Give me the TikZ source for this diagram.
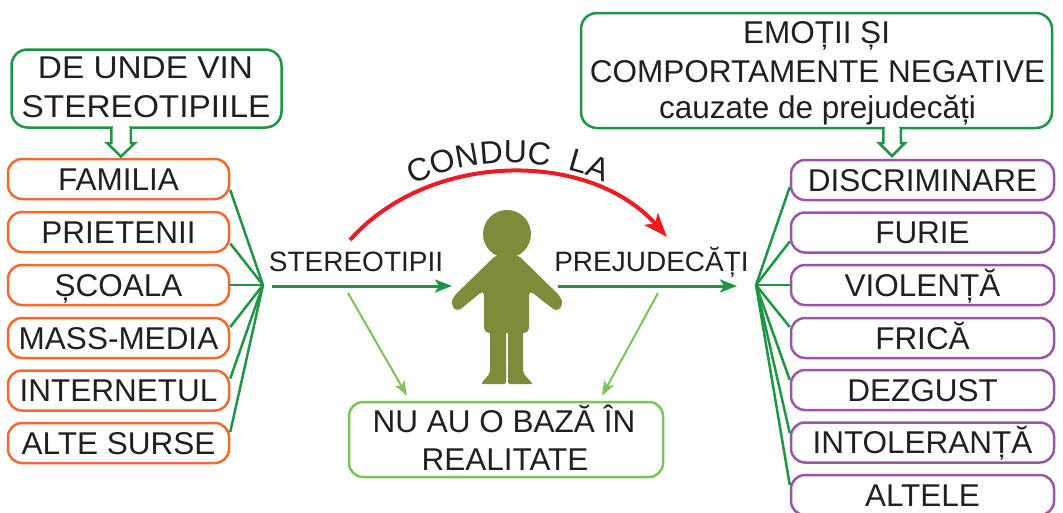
\documentclass[tikz,border=0pt]{standalone}
\usepackage{fontspec}
\setmainfont{Liberation Sans}
\usetikzlibrary{arrows.meta,calc,decorations.text}
\definecolor{orng}{RGB}{242,106,45}
\definecolor{purp}{RGB}{152,86,165}
\definecolor{dgreen}{RGB}{30,150,70}
\definecolor{lgreen}{RGB}{125,195,90}
\definecolor{olivefig}{RGB}{128,139,58}
\definecolor{redarc}{RGB}{237,28,36}
\definecolor{txt}{RGB}{35,31,32}
\tikzset{
  boxbase/.style={draw, line width=2.5pt, rounded corners=14pt, inner sep=0pt, text=txt,
    font=\fontsize{31.5}{37}\selectfont, text height=22.6pt, text depth=0pt},
  srcbox/.style={boxbase, draw=orng, fill=white, minimum width=221pt, minimum height=40pt},
  effbox/.style={boxbase, draw=purp, fill=white, minimum width=263pt, minimum height=40pt},
  callout/.style={draw=dgreen, line width=2.5pt, rounded corners=16pt, fill=white, inner sep=0pt},
  realbox/.style={draw=lgreen, line width=2.5pt, rounded corners=14pt, fill=white, inner sep=0pt},
  tailpath/.style={draw=dgreen, line width=2.5pt, fill=white, line join=miter},
  hubline/.style={draw=dgreen, line width=2.5pt},
  mainarrow/.style={dgreen, line width=3pt, -{Stealth[length=17pt,width=13pt,inset=4pt]}},
  lgarrow/.style={lgreen, line width=2pt, -{Stealth[length=15pt,width=11pt,inset=4pt]}},
  redarrow/.style={redarc, line width=4pt, -{Stealth[length=24pt,width=18pt,inset=6pt]}},
  lbl/.style={text=txt, inner sep=0pt, anchor=base, font=\fontsize{31.5}{37}\selectfont},
  midlbl/.style={text=txt, inner sep=0pt, anchor=base, font=\fontsize{28}{33}\selectfont},
}
\begin{document}
\begin{tikzpicture}[x=1pt,y=-1pt]
\useasboundingbox (0,0) rectangle (1063,512);

% ---------- left callout ----------
\node[callout, minimum width=270pt, minimum height=78pt] (srcq) at (146.5,88.5) {};
\draw[tailpath] (111.25,127.75) -- (111.25,143) -- (107,143) -- (121,156.5) -- (135,143) -- (130.75,143) -- (130.75,127.75);
\fill[white] (112.6,124.5) rectangle (129.4,131);
\node[lbl] (srcq1) at (145.5,78) {\scalebox{1.06}[1]{DE UNDE VIN}};
\node[lbl] (srcq2) at (146,117) {\scalebox{1.06}[1]{STEREOTIPIILE}};

% ---------- left source boxes ----------
\node[srcbox] (s1) at (118.5,179) {FAMILIA};
\node[srcbox] (s2) at (118.5,232) {PRIETENII};
\node[srcbox] (s3) at (118.5,285) {ȘCOALA};
\node[srcbox] (s4) at (118.5,338) {MASS-MEDIA};
\node[srcbox] (s5) at (118.5,390.5) {INTERNETUL};
\node[srcbox] (s6) at (118.5,443) {ALTE SURSE};

\coordinate (hubL) at (263,285);
\foreach \n/\d in {s1/11, s2/11.5, s3/0, s4/-11, s5/-12, s6/-11}
  \draw[hubline] (hubL) -- ($(\n.east)+(0,\d)$);

% ---------- right callout ----------
\node[callout, minimum width=471pt, minimum height=115pt] (effq) at (816.5,70.5) {};
\draw[tailpath] (883.25,128) -- (883.25,143) -- (879,143) -- (892,156) -- (905,143) -- (900.75,143) -- (900.75,128);
\fill[white] (884.6,124.5) rectangle (899.4,131);
\node[lbl] (effq1) at (816.5,43) {EMOȚII ȘI};
\node[lbl] (effq2) at (817.5,82) {COMPORTAMENTE NEGATIVE};
\node[lbl] (effq3) at (817.5,118) {cauzate de prejudecăți};

% ---------- right effect boxes ----------
\node[effbox] (e1) at (922.5,180) {DISCRIMINARE};
\node[effbox] (e2) at (922.5,232.5) {FURIE};
\node[effbox] (e3) at (922.5,285) {VIOLENȚĂ};
\node[effbox] (e4) at (922.5,338) {FRICĂ};
\node[effbox] (e5) at (922.5,390) {DEZGUST};
\node[effbox] (e6) at (922.5,442.5) {INTOLERANȚĂ};
\node[effbox] (e7) at (922.5,495) {ALTELE};

\coordinate (hubR) at (756,285);
\foreach \n/\d in {e1/7, e2/9, e3/0, e4/-11, e5/-10, e6/-9.5, e7/-10}
  \draw[hubline] (hubR) -- ($(\n.west)+(0,\d)$);

% ---------- middle ----------
\node[midlbl] (stereo) at (356,271) {STEREOTIPII};
\node[midlbl] (prej) at (651.5,271) {PREJUDECĂȚI};

\coordinate (a1s) at (272,286);
\coordinate (a1e) at (452,286);
\coordinate (a2s) at (558,286);
\coordinate (a2e) at (737,286);
\draw[mainarrow] (a1s) -- (a1e);
\draw[mainarrow] (a2s) -- (a2e);

% red arc
\coordinate (r1) at (350,240);
\coordinate (r2) at (667,237);
\draw[redarrow] (r1) .. controls (430,150) and (590,150) .. (r2);
\path[decorate, decoration={text along path,
   text={|\fontsize{32}{38}\selectfont|CONDUC{\ }{\ }LA}, text align=center, text color=txt}]
   (350,231) .. controls (430,141) and (590,141) .. (667,228);

% figure
\begin{scope}[olivefig]
\fill (507,234) circle (24);
\fill[rounded corners=5pt] (496,255) -- (518,255) -- (561,297) -- (563,305) -- (557,312) -- (529,290)
   -- (529,333) -- (484,333) -- (484,290) -- (457,312) -- (451,305) -- (453,297) -- cycle;
\fill[rounded corners=2pt] (490,325) rectangle (506,380);
\fill[rounded corners=2pt] (508,325) rectangle (523,380);
\fill[rounded corners=2pt] (490,364) -- (506,364) -- (506,384) -- (481,384) -- (490,373) -- cycle;
\fill[rounded corners=2pt] (508,364) -- (523,364) -- (523,373) -- (533,384) -- (508,384) -- cycle;
\end{scope}

% bottom box
\node[realbox, minimum width=314pt, minimum height=75pt] (nubox) at (506,439.5) {};
\node[lbl] (nu1) at (504,432) {NU AU O BAZĂ ÎN};
\node[lbl] (nu2) at (505,470) {REALITATE};

\coordinate (g1s) at (348,293);
\coordinate (g2s) at (658,293);
\draw[lgarrow] (g1s) -- ($(nubox.north)+(-99,-5)$);
\draw[lgarrow] (g2s) -- ($(nubox.north)+(96,-5)$);
\end{tikzpicture}
\end{document}
